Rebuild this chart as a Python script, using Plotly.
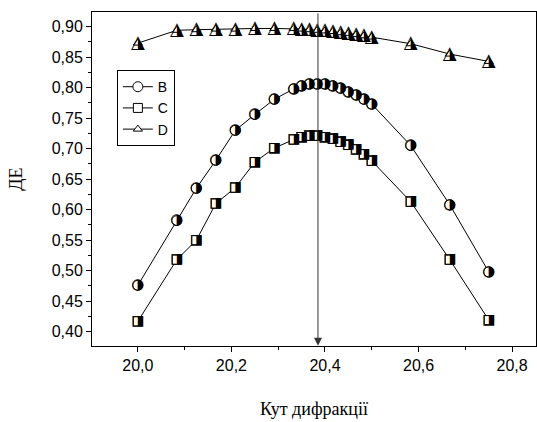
import plotly.graph_objects as go

angle = [20.0, 20.0833, 20.125, 20.1667, 20.2083, 20.25, 20.2917,
         20.3333, 20.35, 20.3667, 20.3833, 20.4, 20.4167, 20.4333, 20.45,
         20.4667, 20.4833, 20.5, 20.5833, 20.6667, 20.75]
de_B = [0.476, 0.582, 0.635, 0.681, 0.730, 0.756, 0.781,
        0.798, 0.803, 0.806, 0.806, 0.806, 0.803, 0.799, 0.793,
        0.788, 0.781, 0.773, 0.705, 0.608, 0.498]
de_C = [0.417, 0.518, 0.550, 0.610, 0.636, 0.678, 0.701,
        0.715, 0.719, 0.721, 0.721, 0.719, 0.716, 0.711, 0.706,
        0.699, 0.691, 0.680, 0.613, 0.518, 0.419]
de_D = [0.873, 0.894, 0.895, 0.896, 0.896, 0.897, 0.897,
        0.897, 0.896, 0.895, 0.894, 0.893, 0.892, 0.890, 0.889,
        0.887, 0.885, 0.883, 0.872, 0.855, 0.843]
peak_angle = 20.385

series = [("B", de_B, "circle", "◑", 10, 15),
          ("C", de_C, "square", "◨", 9, 14),
          ("D", de_D, "triangle-up", "◮", 8, 18)]

fig = go.Figure()
for name, vals, sym, glyph, msize, gsize in series:
    fig.add_trace(go.Scatter(
        x=angle, y=vals, mode="lines+markers", name=name,
        line=dict(color="black", width=1),
        marker=dict(symbol=sym, size=msize, color="white",
                    line=dict(color="black", width=1)),
    ))
for name, vals, sym, glyph, msize, gsize in series:
    fig.add_trace(go.Scatter(
        x=angle, y=vals, mode="text", text=[glyph] * len(angle),
        textposition="middle center", showlegend=False, hoverinfo="skip",
        textfont=dict(family="DejaVu Sans", size=gsize, color="black"),
    ))

fig.add_annotation(x=peak_angle, y=0.377, ax=peak_angle, ay=0.924,
                   xref="x", yref="y", axref="x", ayref="y",
                   text="", showarrow=True, arrowhead=2, arrowsize=1.6,
                   arrowwidth=1, arrowcolor="#333333")

tickfont = dict(family="Liberation Sans", size=16, color="black")
fig.update_layout(
    width=537, height=422,
    margin=dict(l=92, r=1, t=12, b=76),
    paper_bgcolor="white", plot_bgcolor="white",
    showlegend=True,
    legend=dict(x=0.056, y=0.826, xanchor="left", yanchor="top",
                bgcolor="white", bordercolor="black", borderwidth=1,
                font=dict(family="Liberation Sans", size=14, color="black"),
                tracegroupgap=0, itemwidth=30),
    xaxis=dict(range=[19.902, 20.851], tickmode="array", automargin=False,
               tickvals=[20.0, 20.2, 20.4, 20.6, 20.8],
               ticktext=["20,0", "20,2", "20,4", "20,6", "20,8"],
               ticks="outside", ticklen=5, tickcolor="black",
               minor=dict(dtick=0.1, tick0=20.0, ticks="outside", ticklen=3, tickcolor="black"),
               showline=True, linecolor="black", linewidth=1, mirror=True,
               showgrid=False, zeroline=False, tickfont=tickfont,
               title=dict(text="Кут дифракції", standoff=29,
                          font=dict(family="Liberation Serif", size=18, color="black"))),
    yaxis=dict(range=[0.3765, 0.924], tickmode="array", automargin=False,
               tickvals=[0.40, 0.45, 0.50, 0.55, 0.60, 0.65, 0.70, 0.75, 0.80, 0.85, 0.90],
               ticktext=["0,40", "0,45", "0,50", "0,55", "0,60", "0,65", "0,70", "0,75", "0,80", "0,85", "0,90"],
               ticks="outside", ticklen=5, tickcolor="black",
               minor=dict(dtick=0.025, tick0=0.4, ticks="outside", ticklen=3, tickcolor="black"),
               showline=True, linecolor="black", linewidth=1, mirror=True,
               showgrid=False, zeroline=False, tickfont=tickfont,
               title=dict(text="ДЕ", standoff=24,
                          font=dict(family="Liberation Serif", size=18, color="black"))),
)
fig.write_html("out.html", config={"displayModeBar": False},
               post_script="document.body.style.margin='0';document.body.style.overflow='hidden';")
